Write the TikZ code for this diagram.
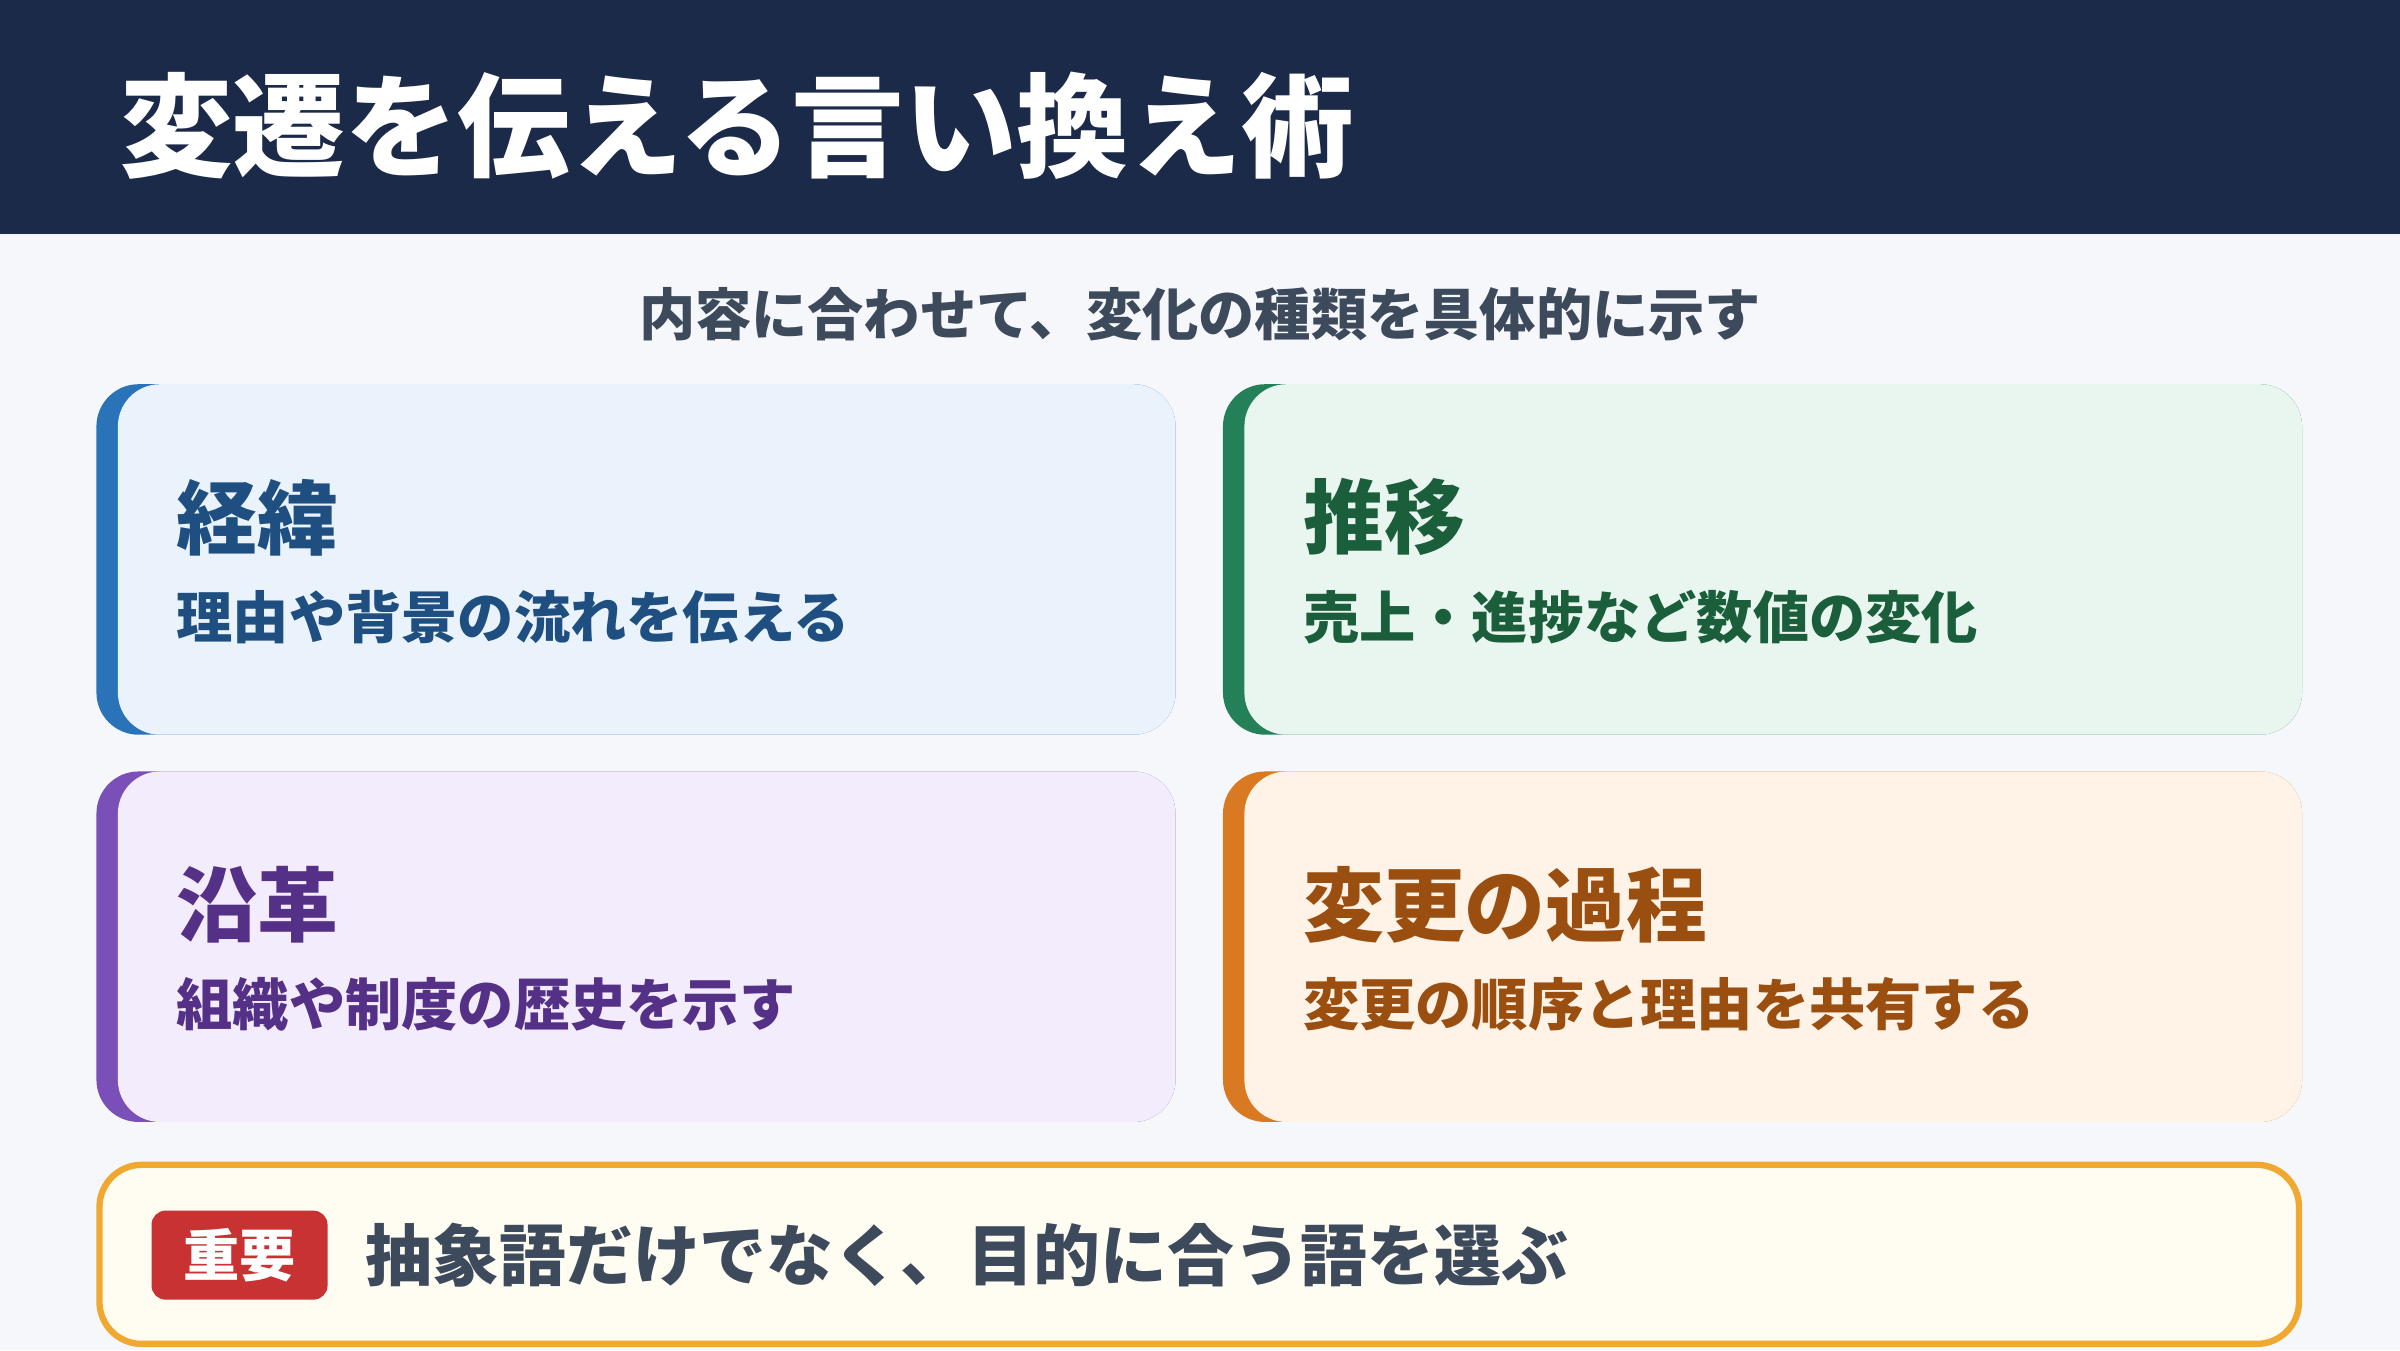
\documentclass[tikz,border=0pt]{standalone}
\usepackage{fontspec}
\setmainfont{Noto Sans CJK JP}
\usetikzlibrary{positioning}
\definecolor{navy}{HTML}{1C2A4A}
\definecolor{pagebg}{HTML}{F5F7FB}
\definecolor{subgray}{HTML}{3D4A5C}
\definecolor{blueBar}{HTML}{2A73B8}\definecolor{blueFill}{HTML}{EAF3FC}\definecolor{blueText}{HTML}{1E4F80}
\definecolor{greenBar}{HTML}{238058}\definecolor{greenFill}{HTML}{E9F6EF}\definecolor{greenText}{HTML}{1B5E3C}
\definecolor{purpleBar}{HTML}{7A50B8}\definecolor{purpleFill}{HTML}{F3ECFC}\definecolor{purpleText}{HTML}{553087}
\definecolor{orangeBar}{HTML}{D97A22}\definecolor{orangeFill}{HTML}{FEF3E6}\definecolor{orangeText}{HTML}{9A4E10}
\definecolor{noteBorder}{HTML}{F0A830}\definecolor{noteFill}{HTML}{FFFCF2}\definecolor{badgeRed}{HTML}{C83232}
\tikzset{
  cardtitle/.style={anchor=west,inner sep=0pt,font=\bfseries\fontsize{23}{27}\selectfont},
  cardtext/.style={anchor=west,inner sep=0pt,font=\bfseries\fontsize{16}{19}\selectfont},
}
% card: x, y, name, color prefix, title, text
\newcommand\infocard[6]{
  \fill[#4Bar,rounded corners=12] (#1,#2) rectangle ++(705,229);
  \fill[#4Fill,rounded corners=12] (#1+14,#2) rectangle ++(691,229);
  \node[cardtitle,text=#4Text] (#3title) at (#1+52,#2+87) {#5};
  \node[cardtext,text=#4Text] (#3text) at (#1+52,#2+152) {#6};
}
\begin{document}
\begin{tikzpicture}[x=0.015306cm,y=-0.015306cm]
\useasboundingbox (0,0) rectangle (1568,882);
\fill[pagebg] (0,0) rectangle (1568,882);
\fill[navy] (0,0) rectangle (1568,153);
\node[anchor=west,inner sep=0pt,text=white,font=\bfseries\fontsize{32}{38}\selectfont] (title) at (78,82) {変遷を伝える言い換え術};
\node[inner sep=0pt,text=subgray,font=\bfseries\fontsize{16}{19}\selectfont] (subtitle) at (784,205) {内容に合わせて、変化の種類を具体的に示す};

\infocard{63}{251}{keii}{blue}{経緯}{理由や背景の流れを伝える}
\infocard{799}{251}{suii}{green}{推移}{売上・進捗など数値の変化}
\infocard{63}{504}{enkaku}{purple}{沿革}{組織や制度の歴史を示す}
\infocard{799}{504}{henkou}{orange}{変更の過程}{変更の順序と理由を共有する}

\draw[noteBorder,line width=1.8pt,fill=noteFill,rounded corners=12] (65,761) rectangle (1502,878);
\node[fill=badgeRed,rounded corners=4pt,text=white,minimum width=1.76cm,minimum height=0.89cm,inner sep=0pt,font=\bfseries\fontsize{16}{19}\selectfont] (badge) at (156.5,820) {重要};
\node[anchor=west,inner sep=0pt,text=subgray,font=\bfseries\fontsize{19}{23}\selectfont,right=0.37cm of badge] (note) {抽象語だけでなく、目的に合う語を選ぶ};
\end{tikzpicture}
\end{document}
